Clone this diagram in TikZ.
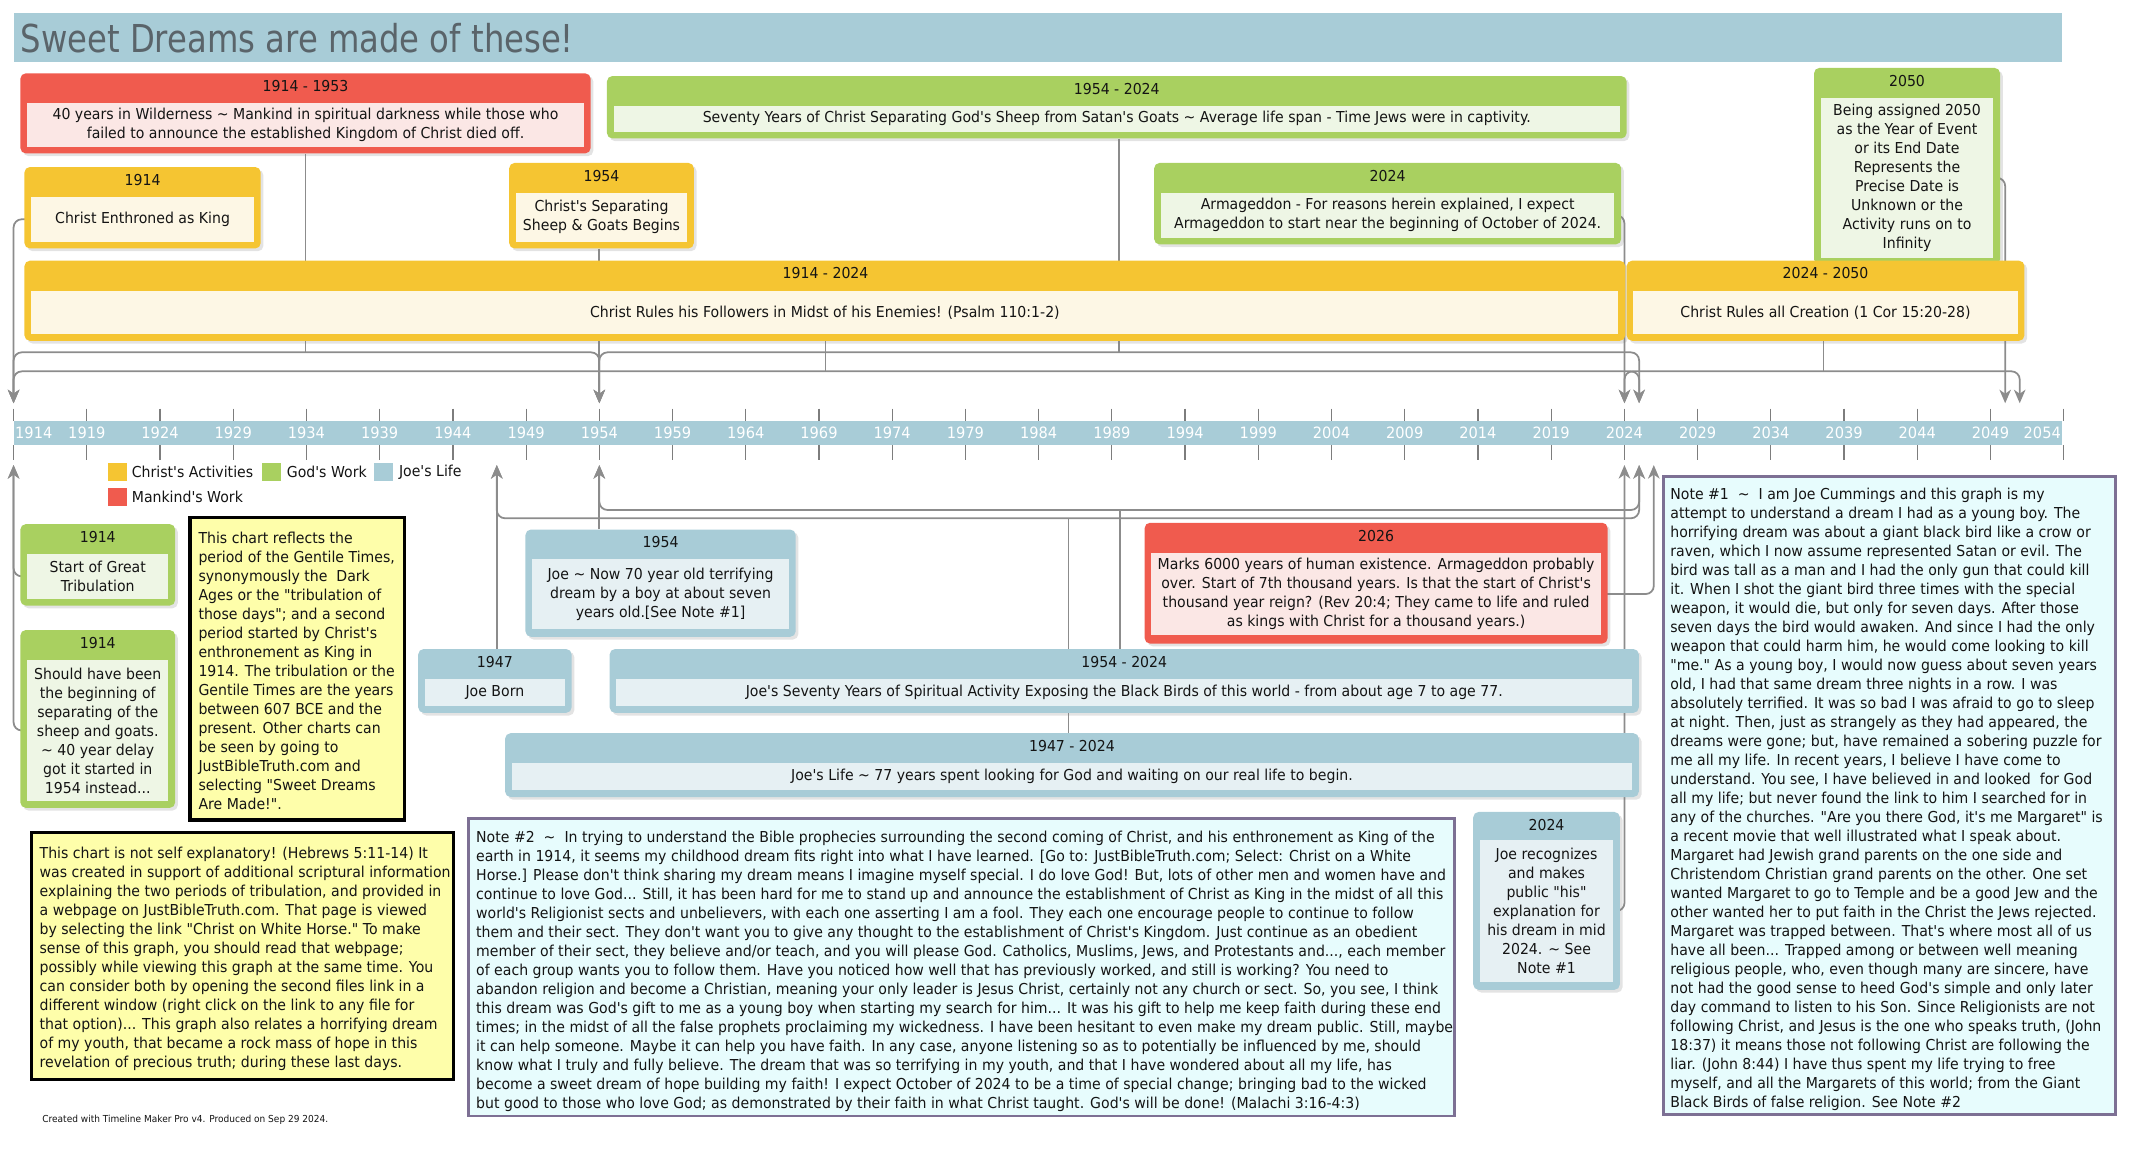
\documentclass[tikz,border=0pt]{standalone}
\usepackage{fontspec}
\setmainfont{DejaVu Sans}[FakeStretch=0.935,Ligatures=TeXOff]
\newfontfamily\titlefont{DejaVu Sans}[FakeStretch=0.84,Ligatures=TeXOff]
\usetikzlibrary{arrows.meta,positioning,calc,fit,shadows}
\definecolor{colSun}{RGB}{245,197,50}
\definecolor{colSunPale}{RGB}{253,247,229}
\definecolor{colLeaf}{RGB}{169,208,96}
\definecolor{colLeafPale}{RGB}{238,246,229}
\definecolor{colFire}{RGB}{240,91,78}
\definecolor{colFirePale}{RGB}{251,231,229}
\definecolor{colSky}{RGB}{168,204,215}
\definecolor{colSkyPale}{RGB}{230,240,243}
\definecolor{colLink}{RGB}{140,140,140}
\definecolor{colTick}{RGB}{125,125,125}
\definecolor{colNote}{RGB}{231,252,253}
\definecolor{colNoteLine}{RGB}{125,112,148}
\definecolor{colMemo}{RGB}{254,254,170}
\definecolor{colTitle}{RGB}{90,100,106}
\definecolor{colInk}{RGB}{20,20,20}
\pgfdeclarelayer{bg}
\pgfsetlayers{bg,main}

\begin{document}
\begin{tikzpicture}[x=1pt, y=-1pt, font=\fontsize{11.1}{14}\selectfont, text=colInk,
    box/.style={rectangle, rounded corners=4pt, draw=none, inner sep=0pt,
      drop shadow={shadow xshift=2pt, shadow yshift=-2pt, opacity=0.22}},
    pane/.style={rectangle, draw=none, inner sep=0pt, align=center},
    hd/.style={inner sep=0pt},
    link/.style={draw=colLink, line width=1.3pt, rounded corners=6pt},
    tip/.style={-{Stealth[length=10pt, width=8.5pt, inset=3pt]}},
    tips/.style={{Stealth[length=10pt, width=8.5pt, inset=3pt]}-{Stealth[length=10pt, width=8.5pt, inset=3pt]}},
    note/.style={rectangle, draw=colNoteLine, line width=2pt, fill=colNote, inner sep=0pt},
    memo/.style={rectangle, draw=black, line width=2.5pt, fill=colMemo, inner sep=0pt},
    txt/.style={inner sep=0pt, align=left, anchor=north west},
    key/.style={rectangle, inner sep=0pt, minimum width=14pt, minimum height=13pt},
    yr/.style={inner sep=0pt, text=white, font=\fontsize{11.5}{12}\selectfont}]
  \useasboundingbox (0,0) rectangle (1568,862);

  % title
  \node[fill=colSky, inner sep=0pt, fit={(10,9.5) (1519,46)}] (bar) {};
  \node[anchor=base west, inner sep=0pt, text=colTitle,
    font=\titlefont\fontsize{28.3}{30}\selectfont] (title) at (15,39)
    {Sweet Dreams are made of these!};

  % time axis
  \node[fill=colSky, inner sep=0pt, fit={(10,310) (1519,328)}] (band) {};
  \foreach \yy in {1914,1919,...,2054} {
    \pgfmathsetmacro\xx{10+(\yy-1914)*10.785}
    \draw[colTick, line width=0.9pt] (\xx,301) -- (\xx,310) (\xx,328) -- (\xx,339);
  }
  \foreach \yy in {1919,1924,...,2049} {
    \pgfmathsetmacro\xx{10+(\yy-1914)*10.785}
    \node[yr] (lab\yy) at (\xx,319) {\yy};
  }
  \node[yr, anchor=west] (lab1914) at (11,319) {1914};
  \node[yr, anchor=east] (lab2054) at (1518,319) {2054};

  % arrow ends at the axis
  \coordinate (up1914) at (10,297);
  \coordinate (up1954) at (441.4,297);
  \coordinate (up2024) at (1196.4,297);
  \coordinate (up2025) at (1207.2,297);
  \coordinate (up2050) at (1476.8,297);
  \coordinate (up2051) at (1487.5,297);
  \coordinate (dn1914) at (10,342.5);
  \coordinate (dn1947) at (365.9,342.5);
  \coordinate (dn1954) at (441.4,342.5);
  \coordinate (dn2024) at (1196.4,342.5);
  \coordinate (dn2025) at (1207.2,342.5);
  \coordinate (dn2026) at (1218,342.5);
  \coordinate (wildJ) at (225,259.5);
  \coordinate (sevJ) at (824,259.5);
  \coordinate (rulesJ) at (608,273.5);
  \coordinate (allcJ) at (1343,273.5);
  \coordinate (bbJ) at (825,375.6);
  \coordinate (lifeJ) at (787,381.7);

  % boxes above the axis
  \node[box, fill=colFire, fit={(15,54) (435,113)}] (wild) {};
  \node[hd] (wildH) at (225,63.5) {1914 - 1953};
  \node[pane, fill=colFirePale, fit={(20,76) (430,108)}] (wildB) {};
  \node[pane] (wildT) at (wildB)
    {40 years in Wilderness \textasciitilde{} Mankind in spiritual darkness while those who\\
     failed to announce the established Kingdom of Christ died off.};

  \node[box, fill=colLeaf, fit={(447,56) (1198,102)}] (sev) {};
  \node[hd] (sevH) at (822.5,65.5) {1954 - 2024};
  \node[pane, fill=colLeafPale, fit={(452,78) (1193,97)}] (sevB) {};
  \node[pane] (sevT) at (sevB)
    {Seventy Years of Christ Separating God's Sheep from Satan's Goats \textasciitilde{} Average life span - Time Jews were in captivity.};

  \node[box, fill=colSun, fit={(18,123) (192,183)}] (enth) {};
  \node[hd] (enthH) at (105,132.5) {1914};
  \node[pane, fill=colSunPale, fit={(23,145) (187,178)}] (enthB) {};
  \node[pane] (enthT) at (enthB) {Christ Enthroned as King};

  \node[box, fill=colSun, fit={(375,120) (511,183)}] (sepb) {};
  \node[hd] (sepbH) at (443,129.5) {1954};
  \node[pane, fill=colSunPale, fit={(380,142) (506,178)}] (sepbB) {};
  \node[pane] (sepbT) at (sepbB) {Christ's Separating\\ Sheep \& Goats Begins};

  \node[box, fill=colLeaf, fit={(850,120) (1194,180)}] (armag) {};
  \node[hd] (armagH) at (1022,129.5) {2024};
  \node[pane, fill=colLeafPale, fit={(855,142) (1189,175)}] (armagB) {};
  \node[pane] (armagT) at (armagB)
    {Armageddon - For reasons herein explained, I expect\\
     Armageddon to start near the beginning of October of 2024.};

  \node[box, fill=colLeaf, fit={(1336,50) (1473,195)}] (inf) {};
  \node[hd] (infH) at (1404.5,59.5) {2050};
  \node[pane, fill=colLeafPale, fit={(1341,72) (1468,190)}] (infB) {};
  \node[pane] (infT) at (infB)
    {Being assigned 2050\\ as the Year of Event\\ or its End Date\\ Represents the\\
     Precise Date is\\ Unknown or the\\ Activity runs on to\\ Infinity};

  \node[box, fill=colSun, fit={(18,192) (1197,251)}] (rules) {};
  \node[hd] (rulesH) at (608,201) {1914 - 2024};
  \node[pane, fill=colSunPale, fit={(23,214) (1192,246)}] (rulesB) {};
  \node[pane] (rulesT) at (rulesB)
    {Christ Rules his Followers in Midst of his Enemies! (Psalm 110:1-2)};

  \node[box, fill=colSun, fit={(1198,192) (1491,251)}] (allc) {};
  \node[hd] (allcH) at (1344.5,201) {2024 - 2050};
  \node[pane, fill=colSunPale, fit={(1203,214) (1486,246)}] (allcB) {};
  \node[pane] (allcT) at (allcB) {Christ Rules all Creation (1 Cor 15:20-28)};

  % boxes below the axis
  \node[box, fill=colLeaf, fit={(15,386) (129,446)}] (trib) {};
  \node[hd] (tribH) at (72,395.5) {1914};
  \node[pane, fill=colLeafPale, fit={(20,408) (124,441)}] (tribB) {};
  \node[pane] (tribT) at (tribB) {Start of Great\\ Tribulation};

  \node[box, fill=colLeaf, fit={(15,464) (129,595)}] (delay) {};
  \node[hd] (delayH) at (72,473.5) {1914};
  \node[pane, fill=colLeafPale, fit={(20,486) (124,590)}] (delayB) {};
  \node[pane] (delayT) at (delayB)
    {Should have been\\ the beginning of\\ separating of the\\ sheep and goats.\\
     \textasciitilde{} 40 year delay\\ got it started in\\ 1954 instead...};

  \node[box, fill=colSky, fit={(387,390) (586,469)}] (joe70) {};
  \node[hd] (joe70H) at (486.5,399.5) {1954};
  \node[pane, fill=colSkyPale, fit={(392,412) (581,463)}] (joe70B) {};
  \node[pane] (joe70T) at (joe70B)
    {Joe \textasciitilde{} Now 70 year old terrifying\\ dream by a boy at about seven\\ years old.[See Note \#1]};

  \node[box, fill=colFire, fit={(843,385) (1184,474)}] (six) {};
  \node[hd] (sixH) at (1013.5,394.5) {2026};
  \node[pane, fill=colFirePale, fit={(848,407) (1179,468)}] (sixB) {};
  \node[pane] (sixT) at (sixB)
    {Marks 6000 years of human existence. Armageddon probably\\
     over. Start of 7th thousand years. Is that the start of Christ's\\
     thousand year reign? (Rev 20:4; They came to life and ruled\\
     as kings with Christ for a thousand years.)};

  \node[box, fill=colSky, fit={(308,478) (421,525)}] (born) {};
  \node[hd] (bornH) at (364.5,487.5) {1947};
  \node[pane, fill=colSkyPale, fit={(313,500) (416,520)}] (bornB) {};
  \node[pane] (bornT) at (bornB) {Joe Born};

  \node[box, fill=colSky, fit={(449,478) (1207,525)}] (bb) {};
  \node[hd] (bbH) at (828,487.5) {1954 - 2024};
  \node[pane, fill=colSkyPale, fit={(454,500) (1202,520)}] (bbB) {};
  \node[pane] (bbT) at (bbB)
    {Joe's Seventy Years of Spiritual Activity Exposing the Black Birds of this world - from about age 7 to age 77.};

  \node[box, fill=colSky, fit={(372,540) (1207,587)}] (life) {};
  \node[hd] (lifeH) at (789.5,549.5) {1947 - 2024};
  \node[pane, fill=colSkyPale, fit={(377,562) (1202,582)}] (lifeB) {};
  \node[pane] (lifeT) at (lifeB)
    {Joe's Life \textasciitilde{} 77 years spent looking for God and waiting on our real life to begin.};

  \node[box, fill=colSky, fit={(1085,598) (1193,729)}] (recog) {};
  \node[hd] (recogH) at (1139,607.5) {2024};
  \node[pane, fill=colSkyPale, fit={(1090,619) (1188,723)}] (recogB) {};
  \node[pane] (recogT) at (recogB)
    {Joe recognizes\\ and makes\\ public "his"\\ explanation for\\ his dream in mid\\ 2024. \textasciitilde{} See\\ Note \#1};

  % legend
  \node[key, fill=colSun, anchor=north west] (kSun) at (79,341) {};
  \node[right=3.5pt of kSun, inner sep=0pt] (lSun) {Christ's Activities};
  \node[key, fill=colLeaf, right=6pt of lSun] (kLeaf) {};
  \node[right=4pt of kLeaf, inner sep=0pt] (lLeaf) {God's Work};
  \node[key, fill=colSky, right=5pt of lLeaf] (kSky) {};
  \node[right=4pt of kSky, inner sep=0pt] (lSky) {Joe's Life};
  \node[key, fill=colFire, below=5pt of kSun] (kFire) {};
  \node[right=3.5pt of kFire, inner sep=0pt] (lFire) {Mankind's Work};

  % notes
  \node[memo, fit={(140,381) (298,604)}] (gent) {};
  \node[txt] (gentT) at (146,391.8) {This chart reflects the\\ period of the Gentile Times,\\
    synonymously the \ Dark\\ Ages or the "tribulation of\\ those days"; and a second\\
    period started by Christ's\\ enthronement as King in\\ 1914. The tribulation or the\\
    Gentile Times are the years\\ between 607 BCE and the\\ present. Other charts can\\
    be seen by going to\\ JustBibleTruth.com and\\ selecting "Sweet Dreams\\ Are Made!".};

  \node[memo, fit={(23,613) (334,795)}] (expl) {};
  \node[txt] (explT) at (29,623.7) {This chart is not self explanatory! (Hebrews 5:11-14) It\\
    was created in support of additional scriptural information\\
    explaining the two periods of tribulation, and provided in\\
    a webpage on JustBibleTruth.com. That page is viewed\\
    by selecting the link "Christ on White Horse." To make\\
    sense of this graph, you should read that webpage;\\
    possibly while viewing this graph at the same time. You\\
    can consider both by opening the second files link in a\\
    different window (right click on the link to any file for\\
    that option)... This graph also relates a horrifying dream\\
    of my youth, that became a rock mass of hope in this\\
    revelation of precious truth; during these last days.};

  \node[note, fit={(345,603) (1071,822)}] (noteB) {};
  \node[txt] (noteBT) at (350.5,612) {Note \#2 \ \textasciitilde{} \ In trying to understand the Bible prophecies surrounding the second coming of Christ, and his enthronement as King of the\\
    earth in 1914, it seems my childhood dream fits right into what I have learned. [Go to: JustBibleTruth.com; Select: Christ on a White\\
    Horse.] Please don't think sharing my dream means I imagine myself special. I do love God! But, lots of other men and women have and\\
    continue to love God... Still, it has been hard for me to stand up and announce the establishment of Christ as King in the midst of all this\\
    world's Religionist sects and unbelievers, with each one asserting I am a fool. They each one encourage people to continue to follow\\
    them and their sect. They don't want you to give any thought to the establishment of Christ's Kingdom. Just continue as an obedient\\
    member of their sect, they believe and/or teach, and you will please God. Catholics, Muslims, Jews, and Protestants and..., each member\\
    of each group wants you to follow them. Have you noticed how well that has previously worked, and still is working? You need to\\
    abandon religion and become a Christian, meaning your only leader is Jesus Christ, certainly not any church or sect. So, you see, I think\\
    this dream was God's gift to me as a young boy when starting my search for him... It was his gift to help me keep faith during these end\\
    times; in the midst of all the false prophets proclaiming my wickedness. I have been hesitant to even make my dream public. Still, maybe\\
    it can help someone. Maybe it can help you have faith. In any case, anyone listening so as to potentially be influenced by me, should\\
    know what I truly and fully believe. The dream that was so terrifying in my youth, and that I have wondered about all my life, has\\
    become a sweet dream of hope building my faith! I expect October of 2024 to be a time of special change; bringing bad to the wicked\\
    but good to those who love God; as demonstrated by their faith in what Christ taught. God's will be done! (Malachi 3:16-4:3)};

  \node[note, fit={(1225,351) (1558,821)}] (noteA) {};
  \node[txt] (noteAT) at (1230,359.3) {Note \#1 \ \textasciitilde{} \ I am Joe Cummings and this graph is my\\
    attempt to understand a dream I had as a young boy. The\\
    horrifying dream was about a giant black bird like a crow or\\
    raven, which I now assume represented Satan or evil. The\\
    bird was tall as a man and I had the only gun that could kill\\
    it. When I shot the giant bird three times with the special\\
    weapon, it would die, but only for seven days. After those\\
    seven days the bird would awaken. And since I had the only\\
    weapon that could harm him, he would come looking to kill\\
    "me." As a young boy, I would now guess about seven years\\
    old, I had that same dream three nights in a row. I was\\
    absolutely terrified. It was so bad I was afraid to go to sleep\\
    at night. Then, just as strangely as they had appeared, the\\
    dreams were gone; but, have remained a sobering puzzle for\\
    me all my life. In recent years, I believe I have come to\\
    understand. You see, I have believed in and looked \ for God\\
    all my life; but never found the link to him I searched for in\\
    any of the churches. "Are you there God, it's me Margaret" is\\
    a recent movie that well illustrated what I speak about.\\
    Margaret had Jewish grand parents on the one side and\\
    Christendom Christian grand parents on the other. One set\\
    wanted Margaret to go to Temple and be a good Jew and the\\
    other wanted her to put faith in the Christ the Jews rejected.\\
    Margaret was trapped between. That's where most all of us\\
    have all been... Trapped among or between well meaning\\
    religious people, who, even though many are sincere, have\\
    not had the good sense to heed God's simple and only later\\
    day command to listen to his Son. Since Religionists are not\\
    following Christ, and Jesus is the one who speaks truth, (John\\
    18:37) it means those not following Christ are following the\\
    liar. (John 8:44) I have thus spent my life trying to free\\
    myself, and all the Margarets of this world; from the Giant\\
    Black Birds of false religion. See Note \#2};

  \node[anchor=base west, inner sep=0pt, font=\fontsize{7.1}{8}\selectfont] (credit) at (31,827)
    {Created with Timeline Maker Pro v4. Produced on Sep 29 2024.};

  % connectors
  \begin{pgfonlayer}{bg}
    \draw[link, tip] (enthB.west) -| (up1914);
    \draw[link, tips] (up1914) |- (wildJ) -| (up1954);
    \draw[link] (wildJ |- wild.south) -- (wildJ);
    \draw[link, tips] (up1954) |- (sevJ) -| (up2025);
    \draw[link] (sevJ |- sev.south) -- (sevJ);
    \draw[link, tips] (up1914) |- (rulesJ) -| (up2025);
    \draw[link] (rulesJ |- rules.south) -- (rulesJ);
    \draw[link, tips] (up2024) |- (allcJ) -| (up2051);
    \draw[link] (allcJ |- allc.south) -- (allcJ);
    \draw[link, tip] (up1954 |- sepb.south) -- (up1954);
    \draw[link, tip] (armagB.east) -| (up2024);
    \draw[link, tip] (infB.east) -| (up2050);
    \draw[link, tip] (tribB.west) -| (dn1914);
    \draw[link, tip] (delayB.west) -| (dn1914);
    \draw[link, tip] (dn1947 |- born.north) -- (dn1947);
    \draw[link, tip] (dn1954 |- joe70.north) -- (dn1954);
    \draw[link, tips] (dn1954) |- (bbJ) -| (dn2025);
    \draw[link] (bbJ |- bb.north) -- (bbJ);
    \draw[link, tips] (dn1947) |- (lifeJ) -| (dn2025);
    \draw[link] (lifeJ |- life.north) -- (lifeJ);
    \draw[link, tip] (sixB.east) -| (dn2026);
    \draw[link, tip] (recogB.east) -| (dn2024);
  \end{pgfonlayer}
\end{tikzpicture}
\end{document}
